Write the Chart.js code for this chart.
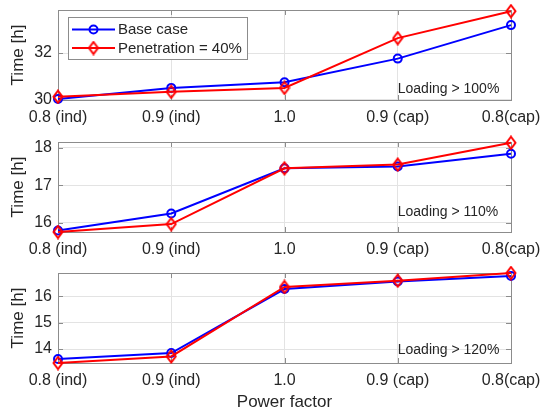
<!DOCTYPE html>
<html>
<head>
<meta charset="utf-8">
<script src="https://cdn.jsdelivr.net/npm/chart.js@4.4.1/dist/chart.umd.min.js"></script>
<style>
  html, body { margin: 0; padding: 0; background: #fff; }
  #wrap { position: relative; width: 540px; height: 416px; }
  canvas { position: absolute; left: 0; }
</style>
</head>
<body>
<div id="wrap">
  <canvas id="c0" width="540" height="132" style="top:0"></canvas>
  <canvas id="c1" width="540" height="132" style="top:132px"></canvas>
  <canvas id="c2" width="540" height="153" style="top:263px"></canvas>
</div>
<script>
// data
const categories = ['0.8 (ind)', '0.9 (ind)', '1.0', '0.9 (cap)', '0.8(cap)'];
const seriesNames = ['Base case', 'Penetration = 40%'];

const base100 = [30.02, 30.50, 30.74, 31.76, 33.20];
const pen100  = [30.12, 30.33, 30.50, 32.64, 33.80];
const base110 = [15.80, 16.25, 17.45, 17.50, 17.84];
const pen110  = [15.76, 15.97, 17.45, 17.55, 18.13];
const base120 = [13.62, 13.85, 16.28, 16.57, 16.78];
const pen120  = [13.47, 13.72, 16.36, 16.60, 16.89];

const yTicks100 = [30, 32];
const yTicks110 = [16, 17, 18];
const yTicks120 = [14, 15, 16];
const yLim100 = [29.98, 33.85];
const yLim110 = [15.76, 18.15];
const yLim120 = [13.47, 16.89];

const notes = ['Loading > 100%', 'Loading > 110%', 'Loading > 120%'];
const noteY = [30.43, 16.28, 13.95];

const BLUE = '#0000ff', RED = '#ff0000';
const TXT = '#262626', GRID = '#e3e3e3', AXIS = '#8c8c8c';
const FONT = '"Liberation Sans", Arial, sans-serif';

Chart.defaults.font.family = FONT;
Chart.defaults.color = TXT;

function diamond(color) {
  const c = document.createElement('canvas');
  c.width = 12; c.height = 15;
  const g = c.getContext('2d');
  g.strokeStyle = color; g.lineWidth = 2;
  g.beginPath();
  g.moveTo(6, 1.5); g.lineTo(10.5, 7.5); g.lineTo(6, 13.5); g.lineTo(1.5, 7.5);
  g.closePath(); g.stroke();
  return c;
}
const redDiamond = diamond(RED);

// matlab-ish box with inward ticks
const boxPlugin = {
  id: 'mBox',
  beforeDatasetsDraw(chart) {
    const { ctx, chartArea: a, scales } = chart;
    ctx.save();
    ctx.strokeStyle = AXIS; ctx.lineWidth = 1;
    ctx.strokeRect(a.left + 0.5, a.top + 0.5, a.right - a.left, a.bottom - a.top);
    ctx.beginPath();
    scales.x.ticks.forEach((t, i) => {
      const px = Math.round(scales.x.getPixelForTick(i)) + 0.5;
      ctx.moveTo(px, a.bottom); ctx.lineTo(px, a.bottom - 5);
      ctx.moveTo(px, a.top); ctx.lineTo(px, a.top + 5);
    });
    scales.y.ticks.forEach(t => {
      const py = Math.round(scales.y.getPixelForValue(t.value)) + 0.5;
      ctx.moveTo(a.left, py); ctx.lineTo(a.left + 5, py);
      ctx.moveTo(a.right, py); ctx.lineTo(a.right - 5, py);
    });
    ctx.stroke();
    ctx.restore();
  }
};

const notePlugin = {
  id: 'note',
  afterDatasetsDraw(chart, args, opts) {
    const { ctx, scales } = chart;
    ctx.save();
    ctx.font = '14px ' + FONT;
    ctx.fillStyle = TXT;
    ctx.textAlign = 'left';
    ctx.textBaseline = 'middle';
    ctx.fillText(opts.text, scales.x.getPixelForValue(3), scales.y.getPixelForValue(opts.y));
    ctx.restore();
  }
};

const legendPlugin = {
  id: 'boxLegend',
  afterDatasetsDraw(chart, args, opts) {
    if (!opts.show) return;
    const { ctx, chartArea: a } = chart;
    const x = a.left + 10, y = a.top + 7, w = 179, h = 42;
    ctx.save();
    ctx.fillStyle = '#fff';
    ctx.fillRect(x, y, w, h);
    ctx.strokeStyle = AXIS; ctx.lineWidth = 1;
    ctx.strokeRect(x + 0.5, y + 0.5, w, h);
    ctx.font = '15px ' + FONT;
    ctx.textBaseline = 'middle';
    chart.data.datasets.forEach((ds, i) => {
      const cy = y + 12.5 + i * 18.5;
      ctx.strokeStyle = ds.borderColor; ctx.lineWidth = 2;
      ctx.beginPath(); ctx.moveTo(x + 4, cy); ctx.lineTo(x + 47, cy); ctx.stroke();
      if (ds.pointStyle === 'circle') {
        ctx.beginPath(); ctx.arc(x + 25.5, cy, 4, 0, Math.PI * 2); ctx.stroke();
      } else {
        ctx.drawImage(ds.pointStyle, x + 25.5 - 6, cy - 7.5);
      }
      ctx.fillStyle = TXT;
      ctx.fillText(ds.label, x + 50, cy + 0.5);
    });
    ctx.restore();
  }
};

function makePanel(id, base, pen, ticks, lim, noteIdx, showLegend, showXTitle) {
  const el = document.getElementById(id);
  const xAxisH = el.height - 10 - 90;
  return new Chart(el, {
    type: 'line',
    data: {
      labels: categories,
      datasets: [
        { label: seriesNames[0], data: base, borderColor: BLUE, borderWidth: 2,
          pointStyle: 'circle', pointRadius: 4, pointBorderWidth: 2, clip: false,
          pointBorderColor: BLUE, pointBackgroundColor: 'rgba(0,0,0,0)', order: 2 },
        { label: seriesNames[1], data: pen, borderColor: RED, borderWidth: 2,
          pointStyle: redDiamond, pointRadius: 5, clip: false, order: 1 }
      ]
    },
    options: {
      responsive: false,
      animation: false,
      layout: { padding: { top: 10, right: 29, left: 0, bottom: 0 } },
      plugins: {
        legend: { display: false },
        tooltip: { enabled: false },
        note: { text: notes[noteIdx], y: noteY[noteIdx] },
        boxLegend: { show: showLegend }
      },
      scales: {
        x: {
          offset: false,
          grid: { color: GRID, drawTicks: false },
          border: { display: false },
          ticks: { font: { size: 16 }, padding: 8, maxRotation: 0, autoSkip: false },
          title: { display: showXTitle, text: 'Power factor', font: { size: 17 }, padding: { top: 0, bottom: 3 } },
          afterFit(s) { s.height = xAxisH; s.paddingLeft = 0; s.paddingRight = 0; }
        },
        y: {
          min: lim[0], max: lim[1],
          grid: { color: GRID, drawTicks: false },
          border: { display: false },
          ticks: { font: { size: 16 }, padding: 6 },
          afterBuildTicks(s) { s.ticks = ticks.map(v => ({ value: v })); },
          title: { display: true, text: 'Time [h]', font: { size: 17 }, padding: { top: 8, bottom: 0 } },
          afterFit(s) { s.width = 58; s.paddingTop = 0; s.paddingBottom = 0; }
        }
      }
    },
    plugins: [boxPlugin, notePlugin, legendPlugin]
  });
}

makePanel('c0', base100, pen100, yTicks100, yLim100, 0, true, false);
makePanel('c1', base110, pen110, yTicks110, yLim110, 1, false, false);
makePanel('c2', base120, pen120, yTicks120, yLim120, 2, false, true);
</script>
</body>
</html>
